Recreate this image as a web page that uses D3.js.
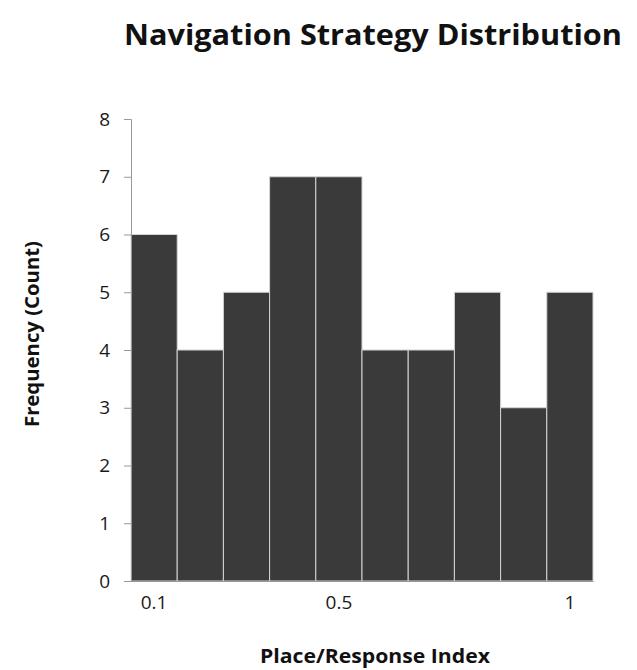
<!DOCTYPE html>
<html lang="en">
<head>
<meta charset="UTF-8">
<title>Navigation Strategy Distribution</title>
<script src="https://d3js.org/d3.v7.min.js"></script>
<style>
  body { margin: 0; background: #fff; }
  text { font-family: "Open Sans", "DejaVu Sans", sans-serif; }
</style>
</head>
<body>
<svg width="637" height="670"></svg>
<script>
// histogram bins (place/response index) and their counts
let bins = ["0.1","0.2","0.3","0.4","0.5","0.6","0.7","0.8","0.9","1"];
let counts = [6,4,5,7,7,4,4,5,3,5];
let xTickLabels = ["0.1","0.5","1"];
let yTicks = [0,1,2,3,4,5,6,7,8];

let svg = d3.select("svg");
let plotLeft = 131, plotTop = 119, plotW = 462, plotH = 462;

let x = d3.scaleBand().domain(bins).range([plotLeft, plotLeft + plotW]).padding(0);
let y = d3.scaleLinear().domain([0, 8]).range([plotTop + plotH, plotTop]);

// bars
svg.append("g").selectAll("rect")
  .data(counts).enter().append("rect")
  .attr("x", (d,i) => x(bins[i]))
  .attr("y", d => y(d))
  .attr("width", x.bandwidth())
  .attr("height", d => y(0) - y(d))
  .attr("fill", "#3a3a3a")
  .attr("stroke", "#d4d4d4")
  .attr("stroke-width", 1);

// y axis
let yAxis = svg.append("g")
  .attr("transform", `translate(${plotLeft},0)`)
  .call(d3.axisLeft(y).tickValues(yTicks).tickSize(7).tickPadding(14).tickFormat(d3.format("d")));
yAxis.select(".domain").attr("stroke", "#999");
yAxis.selectAll(".tick line").attr("stroke", "#999");
yAxis.selectAll("text").style("font-size", "19px").attr("fill", "#1a1a1a")
  .style("font-family", "'Open Sans', sans-serif");

// x axis
let xAxis = svg.append("g")
  .attr("transform", `translate(0,${plotTop + plotH})`)
  .call(d3.axisBottom(x).tickValues(xTickLabels).tickSize(0).tickPadding(15));
xAxis.select(".domain").attr("stroke", "#999");
xAxis.selectAll("text").style("font-size", "19px").attr("fill", "#1a1a1a")
  .style("font-family", "'Open Sans', sans-serif");

// title
svg.append("text")
  .attr("x", 373).attr("y", 45)
  .attr("text-anchor", "middle")
  .style("font-size", "28px").attr("font-weight", "bold").attr("fill", "#111")
  .attr("textLength", 498).attr("lengthAdjust", "spacingAndGlyphs")
  .text("Navigation Strategy Distribution");

// axis titles
svg.append("text")
  .attr("transform", "translate(39,334) rotate(-90)")
  .attr("text-anchor", "middle")
  .style("font-size", "19px").attr("font-weight", "bold").attr("fill", "#111")
  .attr("textLength", 186).attr("lengthAdjust", "spacingAndGlyphs")
  .text("Frequency (Count)");

svg.append("text")
  .attr("x", 375).attr("y", 663)
  .attr("text-anchor", "middle")
  .style("font-size", "19px").attr("font-weight", "bold").attr("fill", "#111")
  .attr("textLength", 230).attr("lengthAdjust", "spacingAndGlyphs")
  .text("Place/Response Index");
</script>
</body>
</html>
